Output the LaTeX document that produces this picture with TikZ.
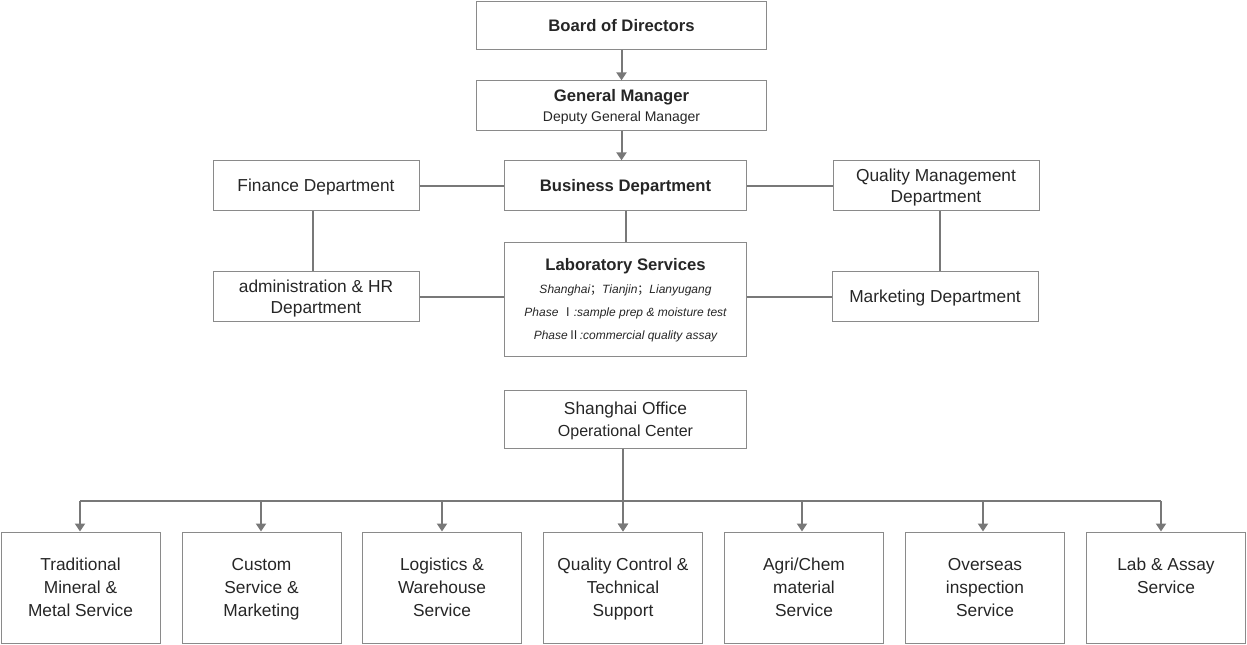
\documentclass[tikz,border=0pt]{standalone}
\usepackage{fontspec}
\setmainfont{Liberation Sans}
\newfontfamily\cjk{Noto Sans CJK SC}
\usetikzlibrary{arrows.meta}
\definecolor{txtgray}{HTML}{262626}
\definecolor{boxgray}{HTML}{8A8A8A}
\definecolor{linegray}{HTML}{787878}

\begin{document}
\begin{tikzpicture}[x=0.75pt,y=-0.75pt,
  box/.style={draw=boxgray,line width=0.75pt,inner sep=0pt,align=center,text=txtgray,
    text depth=0pt,font=\fontsize{13}{15.75}\selectfont},
  head/.style={box,font=\fontsize{12.5}{15}\selectfont\bfseries},
  conn/.style={draw=linegray,line width=1.5pt},
  arr/.style={conn,-{Triangle[width=7.5pt,length=6pt]}}]
  \useasboundingbox (0,0) rectangle (1247,644);
  % Top of the chart
  \node[head,minimum width=218pt,minimum height=36pt] (board) at (621.5,25) {Board of Directors};
  \node[head,minimum width=218pt,minimum height=37pt] (gm) at (621.5,105.5)
    {General Manager\\{\mdseries\fontsize{10.5}{15}\selectfont Deputy General Manager}};
  \node[head,minimum width=182pt,minimum height=37pt] (biz) at (625.5,185.5) {Business Department};
  % Departments
  \node[box,minimum width=154.5pt,minimum height=37pt] (fin) at (316,185.5) {Finance Department};
  \node[box,minimum width=154.5pt,minimum height=37pt] (qm) at (936,185.5) {Quality Management\\Department};
  \node[box,minimum width=154.5pt,minimum height=37pt] (adm) at (316,296.5) {administration \& HR\\Department};
  \node[box,minimum width=154.5pt,minimum height=37pt] (mkt) at (935,296.5) {Marketing Department};
  \node[box,minimum width=182pt,minimum height=85.5pt,font=\fontsize{9}{17.25}\selectfont] (lab) at (625.5,299)
    {{\fontsize{12.5}{17.25}\selectfont\bfseries Laboratory Services}\\
     \itshape Shanghai{\cjk ；}Tianjin{\cjk ；}Lianyugang\\
     \itshape Phase {\cjk Ⅰ}:sample prep \& moisture test\\
     \itshape Phase{\cjk Ⅱ}:commercial quality assay};
  \node[box,minimum width=182pt,minimum height=43pt,font=\fontsize{13}{16.5}\selectfont] (sho) at (625.5,419.5)
    {Shanghai Office\\{\fontsize{12}{16.5}\selectfont Operational Center}};
  % Connectors
  \draw[arr] (board.south) -- (gm.north);
  \draw[arr] (gm.south) -- (gm.south |- biz.north);
  \draw[conn] (fin.east) -- (biz.west);
  \draw[conn] (biz.east) -- (qm.west);
  \draw[conn] (biz.south) -- (lab.north);
  \draw[conn] (fin.south -| 313,0) -- (adm.north -| 313,0);
  \draw[conn] (qm.south -| 940,0) -- (mkt.north -| 940,0);
  \draw[conn] (adm.east) -- (adm.east -| lab.west);
  \draw[conn] (lab.east |- mkt.west) -- (mkt.west);
  % Service lines
  \foreach \i/\x/\ax/\txt in {
      1/80.5/80/{Traditional\\Mineral \&\\Metal Service},
      2/261.5/261/{Custom\\Service \&\\Marketing},
      3/442/442/{Logistics \&\\Warehouse\\Service},
      4/623/623/{Quality Control \&\\Technical\\Support},
      5/804/802/{Agri/Chem\\material\\Service},
      6/985/983/{Overseas\\inspection\\Service},
      7/1166/1161/{Lab \& Assay\\Service\\~}} {
    \node[box,minimum width=119.25pt,minimum height=83.25pt,font=\fontsize{13}{17.25}\selectfont] (s\i) at (\x,587.5) {\txt};
    \coordinate (t\i) at (\ax,501);
    \draw[arr] (t\i) -- (t\i |- s\i.north);
  }
  \draw[conn] (t1) -- (t7);
  \draw[arr] (sho.south -| t4) -- (t4 |- s4.north);
\end{tikzpicture}
\end{document}
